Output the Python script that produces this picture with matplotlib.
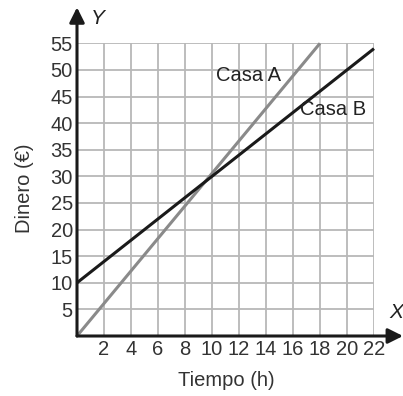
import matplotlib
matplotlib.use('Agg')
import matplotlib.pyplot as plt
from matplotlib import font_manager

# data
tiempo_a = [0, 18]
dinero_a = [0, 55]
tiempo_b = [0, 22]
dinero_b = [10, 54]
x_ticks = list(range(2, 23, 2))
y_ticks = list(range(5, 56, 5))

names = {f.name for f in font_manager.fontManager.ttflist}
fam = 'Liberation Sans Narrow' if 'Liberation Sans Narrow' in names else 'Liberation Sans'
plt.rcParams['font.family'] = [fam, 'DejaVu Sans']

fig = plt.figure(figsize=(4.03, 3.96), dpi=100)
ax = fig.add_axes([77 / 403, 1 - 336 / 396, (374 - 77) / 403, (336 - 43.3) / 396])
ax.set_xlim(0, 22)
ax.set_ylim(0, 55)

ax.set_xticks(x_ticks)
ax.set_yticks(y_ticks)
ax.grid(True, color='#b8b8b8', linewidth=1.3)
ax.set_axisbelow(True)
ax.tick_params(length=0, labelsize=14.5, labelcolor='#333333', pad=3)
for s in ax.spines.values():
    s.set_visible(False)

ax.plot(tiempo_a, dinero_a, color='#8a8a8a', linewidth=2.2, solid_capstyle='butt', clip_on=False)
ax.plot(tiempo_b, dinero_b, color='#1a1a1a', linewidth=2.2, solid_capstyle='butt', clip_on=False)

ax.text(12.7, 49, 'Casa A', fontsize=14.5, color='#222222', ha='center', va='center')
ax.text(19.0, 42.5, 'Casa B', fontsize=14.5, color='#222222', ha='center', va='center')

# axes with arrows
arrow = dict(arrowstyle='-|>,head_length=0.9,head_width=0.45', color='#1a1a1a', lw=2.2,
             shrinkA=0, shrinkB=0)
ax.annotate('', xy=(1.0 + 29 / 297, 0), xycoords=('axes fraction', 'data'),
            xytext=(0, 0), textcoords='data', arrowprops=arrow, annotation_clip=False)
ax.annotate('', xy=(0, 1.0 + 36 / 293), xycoords=('data', 'axes fraction'),
            xytext=(0, 0), textcoords='data', arrowprops=arrow, annotation_clip=False)

fig.text(98 / 403, 1 - 18 / 396, 'Y', fontsize=15, style='italic', color='#222222',
         ha='center', va='center')
fig.text(396 / 403, 1 - 312 / 396, 'X', fontsize=15, style='italic', color='#222222',
         ha='center', va='center')

fig.text(25 / 403, 1 - 188 / 396, 'Dinero (€)', fontsize=14.5, color='#333333',
         rotation=90, ha='center', va='center')
fig.text(226 / 403, 1 - 381 / 396, 'Tiempo (h)', fontsize=14.5, color='#333333',
         ha='center', va='center')

fig.savefig('out.png', dpi=100)
